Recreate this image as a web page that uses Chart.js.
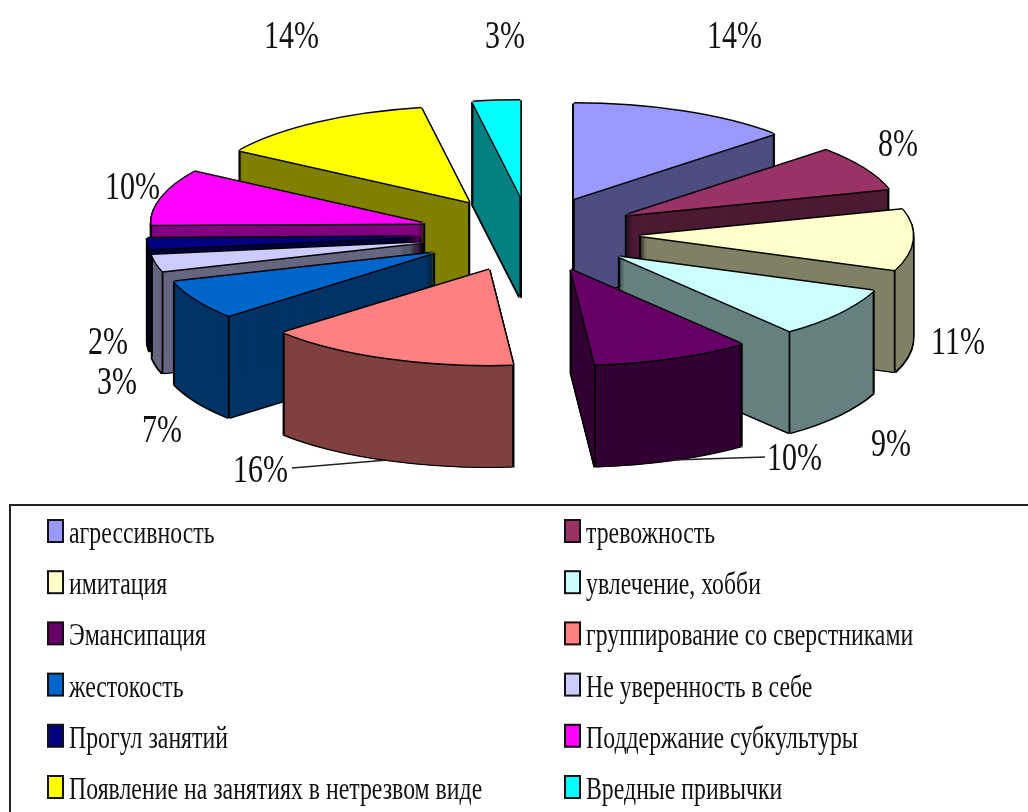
<!DOCTYPE html>
<html>
<head>
<meta charset="utf-8">
<style>
  body { margin: 0; background: #fff; }
  canvas { display: block; filter: blur(0.4px); }
</style>
<script src="https://cdn.jsdelivr.net/npm/chart.js@4"></script>
</head>
<body>
<canvas id="chart" width="1028" height="812"></canvas>
<script>
const categories = [
  'агрессивность', 'тревожность', 'имитация', 'увлечение, хобби',
  'Эмансипация', 'группирование со сверстниками', 'жестокость', 'Не уверенность в себе',
  'Прогул занятий', 'Поддержание субкультуры', 'Появление на занятиях в нетрезвом виде', 'Вредные привычки'
];
const values = [14, 8, 11, 9, 10, 16, 7, 3, 2, 10, 14, 3];
const colors = [
  '#9999ff', '#993366', '#ffffcc', '#ccffff', '#660066', '#ff8080',
  '#0066cc', '#ccccff', '#000080', '#ff00ff', '#ffff00', '#00ffff'
];

// label placement: left edge of text and baseline, same order as categories
const labelX = [707, 878, 931, 871, 767, 233, 142, 97, 88, 105, 264, 485];
const labelY = [48, 156, 354, 456, 470, 482, 442, 394, 354, 199, 48, 48];
// only these two slices have leader lines
const leaders = [
  { index: 5, x: 292, y: 468 },
  { index: 4, x: 765, y: 457 }
];

const pieX = 530;
const pieY = 234;
const pieRadius = 273;
const squeeze = 0.349;  // tilt of the pie
const depth = 102;      // wall height
const explode = 110;    // how far slices are pulled out
const outline = 1.5;
const fontName = '"Liberation Serif", serif';
const textStretch = 1.36;

function wallColor(hex) {
  const n = parseInt(hex.slice(1), 16);
  const half = (v) => Math.round(v / 2);
  return `rgb(${half(n >> 16)},${half((n >> 8) & 255)},${half(n & 255)})`;
}

function moveToPie(chart, ctx, dx, dy) {
  const a = chart.chartArea;
  ctx.translate(pieX + dx, pieY + dy);
  ctx.scale(1, squeeze);
  ctx.translate(-(a.left + a.right) / 2, -(a.top + a.bottom) / 2);
}

function drawArcAs(chart, ctx, arc, color, dx, dy) {
  const saved = arc.options;
  arc.options = Object.create(saved, {
    backgroundColor: { value: color },
    borderWidth: { value: 0 }
  });
  ctx.save();
  moveToPie(chart, ctx, dx, dy);
  arc.draw(ctx);
  ctx.restore();
  arc.options = saved;
}

// vertical edges, only where a wall next to the corner faces the viewer
function drawRidges(chart, ctx, arc) {
  const a = chart.chartArea;
  const cx = (a.left + a.right) / 2;
  const cy = (a.top + a.bottom) / 2;
  const r = arc.outerRadius;
  const s = arc.startAngle;
  const e = arc.endAngle;
  const startFace = -Math.cos(s) > 0;
  const endFace = Math.cos(e) > 0;
  const corners = [
    [arc.x, arc.y, startFace || endFace],
    [arc.x + r * Math.cos(s), arc.y + r * Math.sin(s), startFace || Math.sin(s) > 0],
    [arc.x + r * Math.cos(e), arc.y + r * Math.sin(e), endFace || Math.sin(e) > 0]
  ];
  ctx.strokeStyle = '#000';
  ctx.lineWidth = 1.8;
  corners.forEach(([x, y, visible]) => {
    if (!visible) return;
    const sx = x - cx + pieX;
    const sy = (y - cy) * squeeze + pieY;
    ctx.beginPath();
    ctx.moveTo(sx, sy);
    ctx.lineTo(sx, sy + depth);
    ctx.stroke();
  });
}

function stretchedText(ctx, text, x, y, size) {
  ctx.save();
  ctx.translate(x, y);
  ctx.scale(1, textStretch);
  ctx.font = size + 'px ' + fontName;
  ctx.fillStyle = '#111';
  ctx.fillText(text, 0, 0);
  ctx.restore();
}

const pie3d = {
  id: 'pie3d',
  // pull slices apart here, the arc's own offset option also grows thin slices
  afterDatasetsUpdate(chart) {
    chart.getDatasetMeta(0).data.forEach((arc) => {
      const mid = (arc.startAngle + arc.endAngle) / 2;
      arc.x += Math.cos(mid) * explode;
      arc.y += Math.sin(mid) * explode;
    });
  },
  beforeDatasetsDraw(chart) {
    const ctx = chart.ctx;
    const arcs = chart.getDatasetMeta(0).data.map((arc, i) => ({ arc, i }));
    arcs.sort((p, q) => p.arc.y - q.arc.y);
    arcs.forEach(({ arc, i }) => {
      for (let d = 0; d <= depth + outline; d++) {
        drawArcAs(chart, ctx, arc, '#000', -outline, d);
        drawArcAs(chart, ctx, arc, '#000', outline, d);
      }
      for (let d = 1; d <= depth; d++) {
        drawArcAs(chart, ctx, arc, wallColor(colors[i]), 0, d);
      }
      drawRidges(chart, ctx, arc);
      drawArcAs(chart, ctx, arc, '#000', -outline, 0);
      drawArcAs(chart, ctx, arc, '#000', outline, 0);
      drawArcAs(chart, ctx, arc, '#000', 0, -outline);
      drawArcAs(chart, ctx, arc, '#000', 0, outline);
    });
  },
  beforeDatasetDraw(chart) {
    chart.ctx.save();
    moveToPie(chart, chart.ctx, 0, 0);
  },
  afterDatasetDraw(chart) {
    chart.ctx.restore();
  },
  afterDraw(chart) {
    const ctx = chart.ctx;
    const a = chart.chartArea;
    const arcs = chart.getDatasetMeta(0).data;

    // leader lines run to the bottom rim at the middle of the slice
    ctx.strokeStyle = '#222';
    ctx.lineWidth = 1.5;
    leaders.forEach((l) => {
      const arc = arcs[l.index];
      const mid = (arc.startAngle + arc.endAngle) / 2;
      const px = arc.x + arc.outerRadius * Math.cos(mid) - (a.left + a.right) / 2 + pieX;
      const py = (arc.y + arc.outerRadius * Math.sin(mid) - (a.top + a.bottom) / 2) * squeeze + pieY + depth;
      ctx.beginPath();
      ctx.moveTo(l.x, l.y);
      ctx.lineTo(px, py);
      ctx.stroke();
    });

    ctx.textAlign = 'left';
    ctx.textBaseline = 'alphabetic';
    values.forEach((v, i) => stretchedText(ctx, v + '%', labelX[i], labelY[i], 30));

    // legend frame
    ctx.strokeStyle = '#222';
    ctx.lineWidth = 2;
    ctx.beginPath();
    ctx.moveTo(1028, 505);
    ctx.lineTo(10, 505);
    ctx.lineTo(10, 812);
    ctx.stroke();

    // legend, two columns
    categories.forEach((name, i) => {
      const col = i % 2;
      const row = Math.floor(i / 2);
      const x = col === 0 ? 48 : 565;
      const y = 520 + row * 51.2;
      ctx.fillStyle = colors[i];
      ctx.fillRect(x, y, 15, 22);
      ctx.strokeStyle = '#111';
      ctx.lineWidth = 2;
      ctx.strokeRect(x, y, 15, 22);
      stretchedText(ctx, name, x + 21, y + 23, 23.8);
    });
  }
};

new Chart(document.getElementById('chart'), {
  type: 'pie',
  data: {
    labels: categories,
    datasets: [{
      data: values,
      backgroundColor: colors,
      borderWidth: 0,
      clip: false
    }]
  },
  options: {
    responsive: false,
    animation: false,
    events: [],
    radius: pieRadius,
    layout: { padding: 0 },
    plugins: {
      legend: { display: false },
      tooltip: { enabled: false }
    }
  },
  plugins: [pie3d]
});
</script>
</body>
</html>
